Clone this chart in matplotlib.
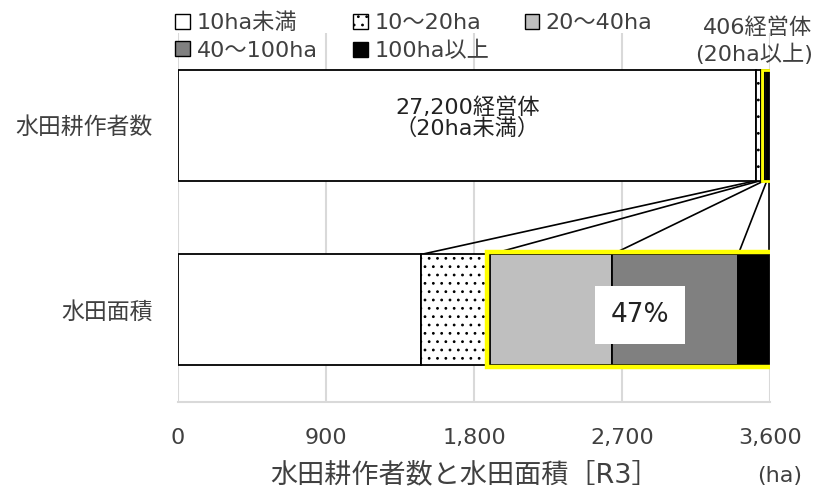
import numpy as np
import matplotlib.pyplot as plt
from matplotlib.patches import Rectangle, Patch

plt.rcParams['font.family'] = ['DejaVu Sans', 'Noto Sans CJK JP']
plt.rcParams['hatch.linewidth'] = 0.8

classes = ["10ha未満", "10～20ha", "20～40ha", "40～100ha", "100ha以上"]
colors = ["white", "white", "#BFBFBF", "#808080", "black"]
hatches = [None, "..", None, None, None]
rows = ["水田耕作者数", "水田面積"]

# 経営体 counts by size class (top bar), scaled to the area total
farmers = np.array([27000, 200, 180, 110, 116])
# paddy area in ha by size class
area = np.array([1480, 420, 740, 766, 190])

area_total = area.sum()
top_vals = farmers / farmers.sum() * area_total

fig = plt.figure(figsize=(8.2, 4.9), dpi=100)
ax = fig.add_axes([0.2171, 0.1796, 0.7220, 0.7531])

ypos = [1, 0]
h = 0.6
for vals, y in zip([top_vals, area], ypos):
    left = 0
    for i, v in enumerate(vals):
        ax.barh(y, v, left=left, height=h, color=colors[i], hatch=hatches[i],
                edgecolor="black", linewidth=1.3, zorder=3)
        left += v

# series lines between the two bars
cum_top = np.cumsum(top_vals)
cum_bot = np.cumsum(area)
for a, b in zip(cum_top, cum_bot):
    ax.plot([a, b], [1 - h / 2, h / 2], color="black", lw=1.2, zorder=2)

# yellow highlight boxes around 20ha and over
x0 = cum_top[1]
ax.add_patch(Rectangle((x0 + 5, 1 - h / 2), cum_top[-1] - x0 + 30, h,
                       fill=False, edgecolor="#FFFF00", lw=2, zorder=5))
x0 = cum_bot[1]
ax.add_patch(Rectangle((x0 - 20, -h / 2 - 0.012), cum_bot[-1] - x0 + 55, h + 0.024,
                       fill=False, edgecolor="#FFFF00", lw=3.2, zorder=5))

ax.text(2810, -0.03, "47%", fontsize=19, ha="center", va="center", color="#222222",
        zorder=6, bbox=dict(boxstyle="square,pad=0.6", fc="white", ec="none"))
ax.text(1760, 1.04, "27,200経営体\n（20ha未満）", fontsize=16, ha="center", va="center",
        color="#222222", linespacing=1.0, zorder=6)

ax.set_xlim(0, 3600)
ax.set_ylim(-0.5, 1.5)
ax.set_xticks([0, 900, 1800, 2700, 3600])
ax.set_xticklabels(["0", "900", "1,800", "2,700", "3,600"], fontsize=16, color="#404040")
ax.set_yticks(ypos)
ax.set_yticklabels(rows, fontsize=16.5, color="#404040")
ax.tick_params(axis="x", length=0, pad=19)
ax.tick_params(axis="y", length=0, pad=18)
ax.grid(axis="x", color="#D9D9D9", lw=1.5, zorder=0)
for s in ["top", "right", "left"]:
    ax.spines[s].set_visible(False)
ax.spines["bottom"].set_color("#D9D9D9")
ax.spines["bottom"].set_linewidth(1.5)

fig.text(0.567, 0.016, "水田耕作者数と水田面積［R3］", fontsize=19.5, ha="center",
         color="#404040")
fig.text(0.951, 0.016, "(ha)", fontsize=16, ha="center", color="#404040")
fig.text(0.991, 0.965, "406経営体\n(20ha以上)", fontsize=16, ha="right", va="top",
         multialignment="right", color="#404040", linespacing=1.35)

handles = [Patch(facecolor=colors[i], edgecolor="black", hatch=hatches[i], label=classes[i])
           for i in range(5)]
order = [0, 3, 1, 4, 2]
fig.legend([handles[i] for i in order], [classes[i] for i in order], ncol=3,
           loc="upper left", bbox_to_anchor=(0.214, 0.975), frameon=False, fontsize=16,
           handlelength=0.65, handleheight=0.65, handletextpad=0.3, columnspacing=1.6,
           labelspacing=0.35, borderpad=0, borderaxespad=0, labelcolor="#404040")

fig.savefig("out.png")
